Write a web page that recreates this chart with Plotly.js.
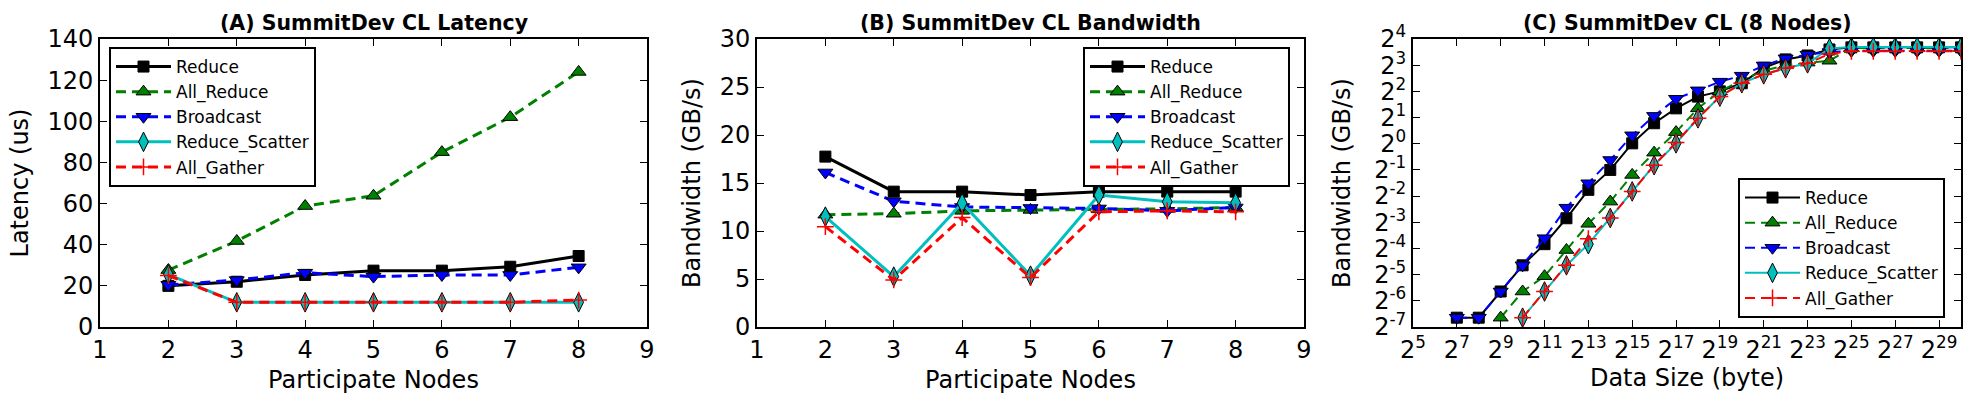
<!DOCTYPE html>
<html>
<head>
<meta charset="utf-8">
<script src="https://cdn.plot.ly/plotly-3.0.1.min.js"></script>
<style>
  html, body { margin: 0; padding: 0; background: #fff; }
  #chart { width: 1975px; height: 415px; }
</style>
</head>
<body>
<div id="chart"></div>
<script>
// ---------------- DATA ----------------
const seriesNames = ['Reduce', 'All_Reduce', 'Broadcast', 'Reduce_Scatter', 'All_Gather'];

// (A) latency (us) vs participate nodes
const nodes = [2, 3, 4, 5, 6, 7, 8];
const latReduce        = [20.0, 22.0, 25.3, 27.4, 27.4, 29.3, 34.5];
const latAllReduce     = [27.7, 41.8, 58.8, 63.8, 85.0, 102.0, 124.0];
const latBroadcast     = [20.5, 22.8, 26.4, 24.5, 25.3, 25.3, 29.0];
const latReduceScatter = [25.5, 12.0, 12.0, 12.0, 12.0, 12.0, 12.0];
const latAllGather     = [25.0, 12.0, 12.0, 12.0, 12.0, 12.0, 13.1];

// (B) bandwidth (GB/s) vs participate nodes
const bwReduce        = [17.75, 14.1, 14.1, 13.75, 14.1, 14.1, 14.1];
const bwAllReduce     = [11.7, 11.8, 12.1, 12.2, 12.25, 12.3, 12.45];
const bwBroadcast     = [16.1, 13.1, 12.5, 12.4, 12.35, 12.1, 12.45];
const bwReduceScatter = [11.5, 5.25, 12.9, 5.35, 13.75, 13.05, 12.95];
const bwAllGather     = [10.45, 4.9, 11.4, 5.15, 12.0, 12.1, 12.0];

// (C) bandwidth (GB/s) vs data size (byte), 8 nodes
const dataSize = [128, 256, 512, 1024, 2048, 4096, 8192, 16384, 32768, 65536, 131072,
  262144, 524288, 1048576, 2097152, 4194304, 8388608, 16777216, 33554432, 67108864,
  134217728, 268435456, 536870912, 1073741824];
const sizeReduce = dataSize;            // from 2^7
const sizeBroadcast = dataSize;         // from 2^7
const sizeAllReduce = dataSize.slice(2);     // from 2^9
const sizeReduceScatter = dataSize.slice(3); // from 2^10
const sizeAllGather = dataSize.slice(3);     // from 2^10

const c8Reduce = [0.010, 0.010, 0.020, 0.040, 0.070, 0.139, 0.295, 0.50, 1.01, 1.72, 2.55,
  3.48, 4.00, 4.96, 7.46, 9.32, 10.34, 12.13, 12.82, 12.82, 12.82, 12.82, 12.82, 12.82];
const c8Broadcast = [0.010, 0.010, 0.020, 0.040, 0.082, 0.184, 0.351, 0.65, 1.25, 2.09, 3.29,
  4.11, 5.17, 6.06, 7.94, 9.58, 10.56, 11.31, 11.71, 11.71, 11.71, 11.71, 11.71, 11.71];
const c8AllReduce = [0.010, 0.020, 0.030, 0.060, 0.120, 0.216, 0.438, 0.79, 1.36, 2.55,
  4.00, 5.35, 6.87, 8.00, 8.57, 9.00, 12.64, 12.64, 12.64, 12.64, 12.64, 12.64];
const c8ReduceScatter = [0.010, 0.020, 0.040, 0.070, 0.140, 0.283, 0.566, 1.01, 1.96, 3.48,
  4.96, 6.28, 7.36, 8.40, 12.47, 12.91, 12.91, 12.91, 12.91, 12.91, 12.91];
const c8AllGather = [0.010, 0.020, 0.040, 0.081, 0.140, 0.283, 0.566, 1.035, 1.96, 3.48,
  4.96, 6.28, 7.36, 8.40, 10.78, 11.55, 11.55, 11.55, 11.55, 11.55, 11.55];

// tick labels
const linXTicks = [1, 2, 3, 4, 5, 6, 7, 8, 9];
const latYTicks = [0, 20, 40, 60, 80, 100, 120, 140];
const bwYTicks = [0, 5, 10, 15, 20, 25, 30];
const cXTickExp = [5, 7, 9, 11, 13, 15, 17, 19, 21, 23, 25, 27, 29];
const cYTickExp = [-7, -6, -5, -4, -3, -2, -1, 0, 1, 2, 3, 4];

const titles = ['(A) SummitDev CL Latency', '(B) SummitDev CL Bandwidth', '(C) SummitDev CL (8 Nodes)'];
const xTitles = ['Participate Nodes', 'Participate Nodes', 'Data Size (byte)'];
const yTitles = ['Latency (us)', 'Bandwidth (GB/s)', 'Bandwidth (GB/s)'];

// ---------------- STYLE ----------------
const FONT = 'DejaVu Sans, Bitstream Vera Sans, sans-serif';
const styles = [
  { color: '#000000', dash: 'solid', symbol: 'square', size: 11 },
  { color: '#008000', dash: '10px,6px', symbol: 'triangle-up', size: 13 },
  { color: '#0000ff', dash: '10px,6px', symbol: 'triangle-down', size: 13 },
  { color: '#00bfbf', dash: 'solid', symbol: 'diamond-tall', size: 14 },
  { color: '#ff0000', dash: '10px,6px', symbol: 'cross-thin', size: 12 }
];

function mkTrace(i, x, y, xa, ya, leg, lw) {
  const s = styles[i];
  const isCross = s.symbol === 'cross-thin';
  return {
    type: 'scatter', mode: 'lines+markers', name: seriesNames[i],
    x: x, y: y, xaxis: xa, yaxis: ya, legend: leg, showlegend: true,
    line: { color: s.color, width: lw, dash: s.dash },
    marker: {
      symbol: s.symbol, size: s.size, color: s.color,
      line: { color: isCross ? s.color : '#000000', width: isCross ? 1.5 : 1 }
    }
  };
}

const latSeries = [latReduce, latAllReduce, latBroadcast, latReduceScatter, latAllGather];
const bwSeries = [bwReduce, bwAllReduce, bwBroadcast, bwReduceScatter, bwAllGather];
const cX = [sizeReduce, sizeAllReduce, sizeBroadcast, sizeReduceScatter, sizeAllGather];
const cY = [c8Reduce, c8AllReduce, c8Broadcast, c8ReduceScatter, c8AllGather];

const traces = [];
for (let i = 0; i < 5; i++) traces.push(mkTrace(i, nodes, latSeries[i], 'x', 'y', 'legend', 3));
for (let i = 0; i < 5; i++) traces.push(mkTrace(i, nodes, bwSeries[i], 'x2', 'y2', 'legend2', 3));
for (let i = 0; i < 5; i++) traces.push(mkTrace(i, cX[i], cY[i], 'x3', 'y3', 'legend3', 2));

function axisBase(extra) {
  return Object.assign({
    showline: true, linecolor: '#000', linewidth: 2, mirror: 'ticks',
    ticks: 'inside', ticklen: 7, tickwidth: 1, tickcolor: '#000',
    showgrid: false, zeroline: false,
    tickfont: { family: FONT, size: 24, color: '#000' }
  }, extra);
}
function axTitle(t, standoff) {
  return { text: t, font: { family: FONT, size: 24, color: '#000' }, standoff: standoff };
}

const W = 1975;
const TOP = 39, BOT = 327;           // plot area top/bottom in pixels
const ph = BOT - TOP;
const py = px => (BOT - px) / ph;    // pixel row -> paper y
const doms = [[100 / W, 647 / W], [757 / W, 1304 / W], [1413 / W, 1961 / W]];

const legendBase = {
  bgcolor: '#fff', bordercolor: '#000', borderwidth: 2,
  font: { family: FONT, size: 17, color: '#000' },
  xanchor: 'left', yanchor: 'top', itemwidth: 55, tracegroupgap: 0
};

const layout = {
  width: 1975, height: 415,
  margin: { l: 0, r: 0, t: TOP, b: 415 - BOT },
  paper_bgcolor: '#fff', plot_bgcolor: '#fff',
  font: { family: FONT, color: '#000' },
  xaxis: axisBase({ domain: doms[0], anchor: 'y', range: [1, 9], tickmode: 'array', tickvals: linXTicks,
    title: axTitle(xTitles[0], 8) }),
  yaxis: axisBase({ domain: [0, 1], anchor: 'x', range: [0, 140], tickmode: 'array', tickvals: latYTicks,
    title: axTitle(yTitles[0], 12) }),
  xaxis2: axisBase({ domain: doms[1], anchor: 'y2', range: [1, 9], tickmode: 'array', tickvals: linXTicks,
    title: axTitle(xTitles[1], 8) }),
  yaxis2: axisBase({ domain: [0, 1], anchor: 'x2', range: [0, 30], tickmode: 'array', tickvals: bwYTicks,
    title: axTitle(yTitles[1], 12) }),
  xaxis3: axisBase({ domain: doms[2], anchor: 'y3', type: 'log',
    range: [Math.log10(Math.pow(2, 5)), Math.log10(Math.pow(2, 30))],
    tickmode: 'array', tickvals: cXTickExp.map(e => Math.pow(2, e)),
    ticktext: cXTickExp.map(e => '2<sup>' + e + '</sup>'),
    title: axTitle(xTitles[2], 4) }),
  yaxis3: axisBase({ domain: [0, 1], anchor: 'x3', type: 'log',
    range: [Math.log10(Math.pow(2, -7)), Math.log10(Math.pow(2, 4))],
    tickmode: 'array', tickvals: cYTickExp.map(e => Math.pow(2, e)),
    ticktext: cYTickExp.map(e => '2<sup>' + e + '</sup>'),
    title: axTitle(yTitles[2], 17) }),
  legend: Object.assign({}, legendBase, { x: 109 / W, y: py(47) }),
  legend2: Object.assign({}, legendBase, { x: 1083 / W, y: py(47) }),
  legend3: Object.assign({}, legendBase, { x: 1738 / W, y: py(318), yanchor: 'bottom' }),
  annotations: titles.map((t, i) => ({
    text: t, xref: 'paper', yref: 'paper',
    x: (doms[i][0] + doms[i][1]) / 2, y: py(23),
    xanchor: 'center', yanchor: 'middle', showarrow: false,
    font: { family: FONT, size: 20.5, color: '#000', weight: 'bold' }
  }))
};

Plotly.newPlot('chart', traces, layout, { staticPlot: true, displayModeBar: false });
</script>
</body>
</html>
